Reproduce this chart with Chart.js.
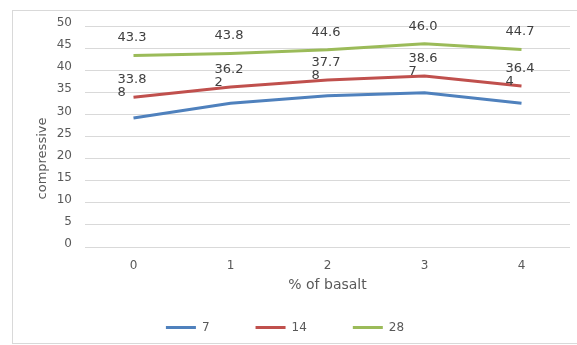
<!DOCTYPE html>
<html>
<head>
<meta charset="utf-8">
<script src="https://cdn.jsdelivr.net/npm/chart.js@4/dist/chart.umd.min.js"></script>
<style>
  html, body { margin: 0; padding: 0; background: #fff; overflow: hidden; }
  #frame {
    position: absolute; left: 12px; top: 10px; width: 600px; height: 334px;
    box-sizing: border-box; border: 1px solid #d9d9d9;
  }
  #wrap { position: absolute; left: 0; top: 0; width: 577px; height: 345px; }
</style>
</head>
<body>
<div id="frame"></div>
<div id="wrap"><canvas id="chart"></canvas></div>
<script>
// % of basalt replacing part of the mix
const categories = ['0', '1', '2', '3', '4'];

// compressive strength by curing age (days)
const day7  = [29.2, 32.5, 34.2, 34.9, 32.5];
const day14 = [33.88, 36.22, 37.78, 38.67, 36.44];
const day28 = [43.3, 43.8, 44.6, 46.0, 44.7];

const seriesNames = ['7', '14', '28'];
const yTicks = { min: 0, max: 50, step: 5 };
const xTitle = '% of basalt';
const yTitle = 'compressive';

const FONT = 'DejaVu Sans';
const GREY = '#595959';

// value labels: decimals per series (null = no labels), long labels wrap after 4 chars
const labelDecimals = [null, 2, 1];
const LABEL_WRAP = 4;

const valueLabels = {
  id: 'valueLabels',
  afterDatasetsDraw(chart) {
    const ctx = chart.ctx;
    ctx.save();
    ctx.font = '13px "' + FONT + '"';
    ctx.fillStyle = '#404040';
    ctx.textAlign = 'left';
    ctx.textBaseline = 'middle';
    chart.data.datasets.forEach((ds, di) => {
      const dec = labelDecimals[di];
      if (dec === null) return;
      chart.getDatasetMeta(di).data.forEach((pt, i) => {
        const txt = ds.data[i].toFixed(dec);
        const lines = txt.length > LABEL_WRAP ? [txt.slice(0, LABEL_WRAP), txt.slice(LABEL_WRAP)] : [txt];
        const w = ctx.measureText(lines[0]).width;
        const left = pt.x - w / 2 - 1.5;
        lines.forEach((ln, k) => ctx.fillText(ln, left, pt.y - 17.5 + k * 13));
      });
    });
    ctx.restore();
  }
};

const axisTitles = {
  id: 'axisTitles',
  afterDraw(chart) {
    const ctx = chart.ctx;
    const a = chart.chartArea;
    ctx.save();
    ctx.fillStyle = GREY;
    ctx.textAlign = 'center';
    ctx.textBaseline = 'middle';
    ctx.font = '14px "' + FONT + '"';
    ctx.fillText(xTitle, (a.left + a.right) / 2, 285);
    ctx.translate(43, 158.5);
    ctx.rotate(-Math.PI / 2);
    ctx.font = '13px "' + FONT + '"';
    ctx.fillText(yTitle, 0, 0);
    ctx.restore();
  }
};

const colors = ['#4F81BD', '#C0504D', '#9BBB59'];
const values = [day7, day14, day28];

new Chart(document.getElementById('chart'), {
  type: 'line',
  data: {
    labels: categories,
    datasets: values.map((v, i) => ({
      label: seriesNames[i],
      data: v,
      borderColor: colors[i],
      backgroundColor: colors[i],
      borderWidth: 3,
      pointRadius: 0,
      pointHoverRadius: 0,
      tension: 0,
      fill: false
    }))
  },
  options: {
    responsive: true,
    maintainAspectRatio: false,
    animation: false,
    events: [],
    layout: { padding: { top: 26, right: 7, left: 0, bottom: 1.5 } },
    plugins: {
      tooltip: { enabled: false },
      legend: {
        position: 'bottom',
        labels: {
          boxWidth: 30,
          boxHeight: 3,
          padding: 46,
          color: GREY,
          font: { family: FONT, size: 12 },
          generateLabels(chart) {
            return Chart.defaults.plugins.legend.labels.generateLabels(chart).map(it => {
              it.lineWidth = 0;
              it.fillStyle = colors[it.datasetIndex];
              return it;
            });
          }
        }
      }
    },
    scales: {
      x: {
        offset: true,
        grid: { display: false, drawTicks: false },
        border: { display: false },
        ticks: { color: GREY, font: { family: FONT, size: 12 }, padding: 12 },
        afterFit(s) { s.height = s.chart.height - 1.5 - s.chart.legend.height - 247; }
      },
      y: {
        min: yTicks.min,
        max: yTicks.max,
        grid: { color: '#d9d9d9', lineWidth: 1, drawTicks: false },
        border: { display: false },
        ticks: {
          stepSize: yTicks.step,
          color: GREY,
          font: { family: FONT, size: 12 },
          padding: 13,
          labelOffset: -3
        },
        afterFit(s) { s.width = 85; }
      }
    }
  },
  plugins: [valueLabels, axisTitles]
});
</script>
</body>
</html>
